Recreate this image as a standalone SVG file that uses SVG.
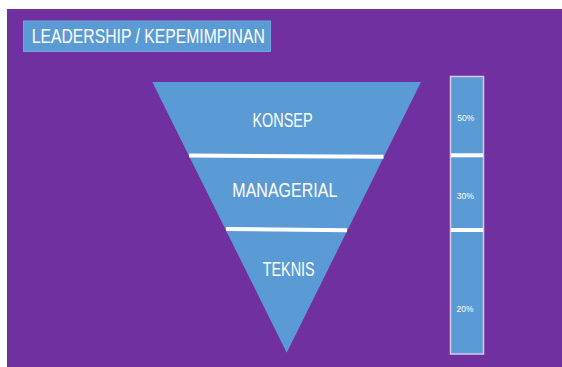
<svg xmlns="http://www.w3.org/2000/svg" width="562" height="367" viewBox="0 0 562 367">
<style>
.lbl{font-family:"Liberation Sans",Arial,sans-serif;fill:#FFFFFF;text-anchor:middle}
.big{font-size:19.5px}
.small{font-size:9.5px}
.div{stroke:#FFFFFF;stroke-width:4;fill:none}
</style>
<rect x="0" y="0" width="562" height="367" fill="#FFFFFF"/>
<rect x="7" y="9" width="555" height="358" fill="#7030A0"/>
<g id="title">
<rect x="23.5" y="21" width="247" height="30.5" fill="#5B9BD5" stroke="#6FA8DC" stroke-width="1"/>
<text class="lbl big" x="148.3" y="43.3" textLength="233" lengthAdjust="spacingAndGlyphs">LEADERSHIP / KEPEMIMPINAN</text>
</g>
<g id="pyramid">
<polygon points="152.3,82 421,82 286.7,352.7" fill="#5B9BD5"/>
</g>
<g id="konsep">
<text class="lbl big" x="282.5" y="127.3" textLength="60" lengthAdjust="spacingAndGlyphs">KONSEP</text>
</g>
<g id="managerial">
<text class="lbl big" x="284.8" y="196.7" textLength="105" lengthAdjust="spacingAndGlyphs">MANAGERIAL</text>
</g>
<g id="teknis">
<text class="lbl big" x="288.7" y="276" textLength="52" lengthAdjust="spacingAndGlyphs">TEKNIS</text>
</g>
<g id="bar">
<rect x="450.5" y="76.5" width="33" height="277.5" fill="#5B9BD5" stroke="#D8C8F0" stroke-width="1.5"/>
<text class="lbl small" x="465.7" y="120.5" textLength="17" lengthAdjust="spacingAndGlyphs">50%</text>
<text class="lbl small" x="465.3" y="199" textLength="17" lengthAdjust="spacingAndGlyphs">30%</text>
<text class="lbl small" x="465" y="311.5" textLength="17" lengthAdjust="spacingAndGlyphs">20%</text>
</g>
<g id="connectors">
<line class="div" x1="189" y1="155.5" x2="383.5" y2="156.8"/>
<line class="div" x1="226" y1="229" x2="347" y2="230.3"/>
<line class="div" x1="451" y1="155.3" x2="483" y2="155.3"/>
<line class="div" x1="451" y1="230" x2="483" y2="230"/>
</g>
</svg>
